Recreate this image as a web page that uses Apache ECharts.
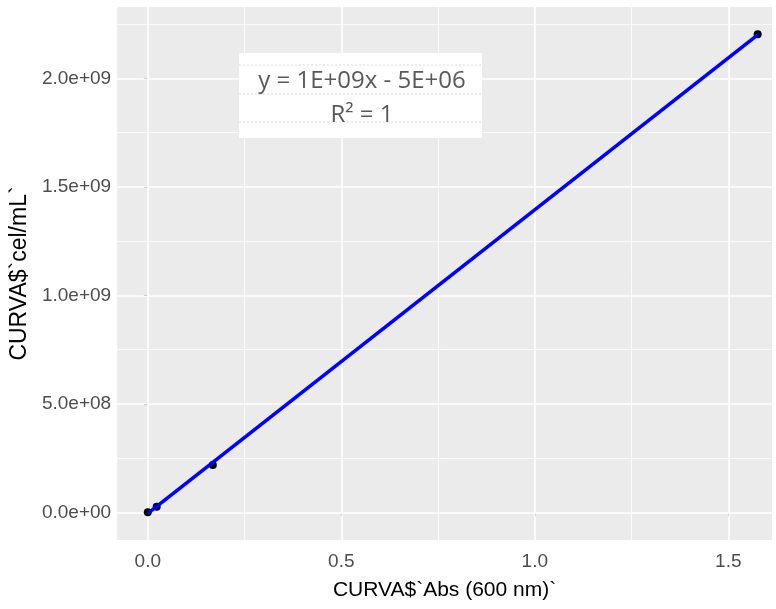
<!DOCTYPE html>
<html>
<head>
<meta charset="utf-8">
<script src="https://cdn.jsdelivr.net/npm/echarts@6/dist/echarts.min.js"></script>
<style>
  html, body { margin: 0; padding: 0; background: #fff; }
  #chart { width: 776px; height: 609px; }
</style>
</head>
<body>
<div id="chart"></div>
<script>
// Calibration points
const absValues = [0, 0.023, 0.168, 1.576];
const cellValues = [0, 2.6e7, 2.18e8, 2.203e9];
// Fitted regression line (end points)
const fitAbs = [0, 1.576];
const fitCells = [-5e6, 2.2e9];

// Ticks and grid
const xTicks = [0, 0.5, 1.0, 1.5];
const xTickLabels = ['0.0', '0.5', '1.0', '1.5'];
const xMinor = [0.25, 0.75, 1.25];
const yTicks = [0, 5e8, 1e9, 1.5e9, 2e9];
const yTickLabels = ['0.0e+00', '5.0e+08', '1.0e+09', '1.5e+09', '2.0e+09'];
const yMinor = [2.5e8, 7.5e8, 1.25e9, 1.75e9, 2.25e9];

const eqLines = ['y = 1E+09x - 5E+06', 'R² = 1'];

const chart = echarts.init(document.getElementById('chart'));
const font = '"Liberation Sans", Arial, sans-serif';

function gridLines(values, axis, width) {
  return values.map(v => ({ [axis]: v, lineStyle: { color: '#fff', width: width, type: 'solid' } }));
}

chart.setOption({
  animation: false,
  grid: {
    left: 117, right: 4, top: 7, bottom: 69,
    show: true,
    backgroundColor: '#EBEBEB',
    borderWidth: 0
  },
  xAxis: {
    type: 'value',
    min: -0.0793,
    max: 1.613,
    axisLine: { show: false },
    splitLine: { show: false },
    name: 'CURVA$`Abs (600 nm)`',
    nameLocation: 'middle',
    nameGap: 40,
    nameTextStyle: { color: '#000', fontSize: 21, fontFamily: font },
    axisTick: { show: true, length: 4, customValues: xTicks, lineStyle: { color: '#333', width: 1 } },
    axisLabel: {
      customValues: xTicks,
      formatter: v => xTickLabels[xTicks.indexOf(+v)] ?? '',
      color: '#4D4D4D', fontSize: 19, fontFamily: font, margin: 12
    }
  },
  yAxis: {
    type: 'value',
    min: -1.276e8,
    max: 2.3286e9,
    axisLine: { show: false },
    splitLine: { show: false },
    name: 'CURVA$`cel/mL`',
    nameLocation: 'middle',
    nameGap: 78,
    nameRotate: 90,
    nameTextStyle: { color: '#000', fontSize: 23, fontFamily: font },
    axisTick: { show: true, length: 4, customValues: yTicks, lineStyle: { color: '#333', width: 1 } },
    axisLabel: {
      customValues: yTicks,
      formatter: v => yTickLabels[yTicks.indexOf(+v)] ?? '',
      color: '#4D4D4D', fontSize: 19, fontFamily: font, margin: 6
    }
  },
  series: [
    {
      // panel grid lines
      type: 'scatter',
      data: [],
      silent: true,
      z: 1,
      markLine: {
        silent: true,
        z: 1,
        symbol: 'none',
        label: { show: false },
        emphasis: { disabled: true },
        data: [].concat(
          gridLines(xMinor, 'xAxis', 0.8),
          gridLines(yMinor, 'yAxis', 0.8),
          gridLines(xTicks, 'xAxis', 1.6),
          gridLines(yTicks, 'yAxis', 1.6)
        )
      }
    },
    {
      type: 'scatter',
      data: absValues.map((x, i) => [x, cellValues[i]]),
      symbolSize: 8,
      itemStyle: { color: '#000', opacity: 1 },
      z: 3
    },
    {
      type: 'line',
      data: fitAbs.map((x, i) => [x, fitCells[i]]),
      showSymbol: false,
      lineStyle: { color: '#0000FF', width: 3.5 },
      z: 4
    }
  ],
  graphic: [
    {
      type: 'rect',
      shape: { x: 239, y: 53, width: 243, height: 85 },
      style: { fill: '#fff' },
      z: 10
    },
    {
      type: 'line',
      shape: { x1: 239, y1: 65, x2: 482, y2: 65 },
      style: { stroke: '#D9D9D9', lineWidth: 1, lineDash: [2, 2] },
      z: 11
    },
    {
      type: 'line',
      shape: { x1: 239, y1: 94, x2: 482, y2: 94 },
      style: { stroke: '#D9D9D9', lineWidth: 1, lineDash: [2, 2] },
      z: 11
    },
    {
      type: 'line',
      shape: { x1: 239, y1: 122, x2: 482, y2: 122 },
      style: { stroke: '#D9D9D9', lineWidth: 1, lineDash: [2, 2] },
      z: 11
    },
    {
      type: 'text',
      x: 362, y: 81,
      style: {
        text: eqLines[0], fill: '#595959', fontSize: 24,
        fontFamily: '"Open Sans", "Noto Sans", sans-serif',
        align: 'center', verticalAlign: 'middle'
      },
      z: 12
    },
    {
      type: 'text',
      x: 362, y: 115,
      style: {
        text: eqLines[1], fill: '#595959', fontSize: 24,
        fontFamily: '"Open Sans", "Noto Sans", sans-serif',
        align: 'center', verticalAlign: 'middle'
      },
      z: 12
    }
  ]
});
</script>
</body>
</html>
